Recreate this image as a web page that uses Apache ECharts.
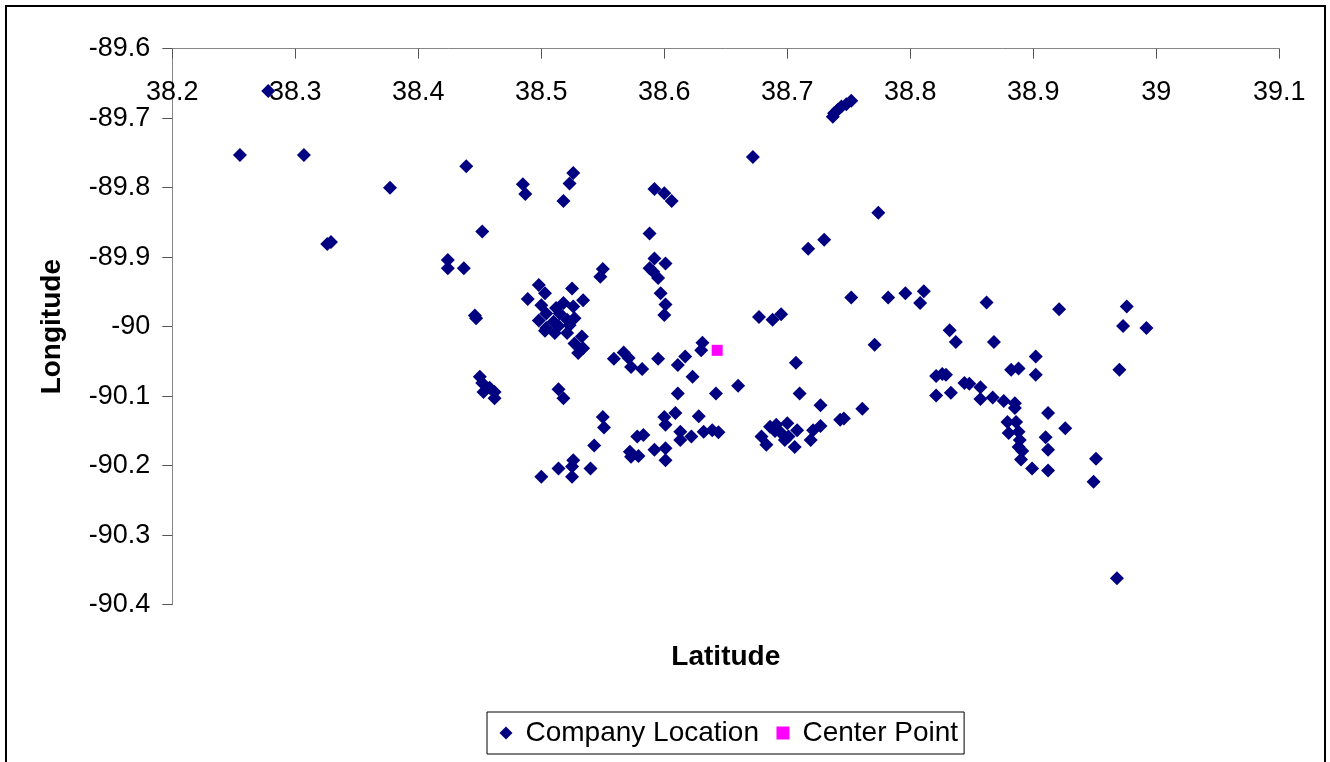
<!DOCTYPE html>
<html><head><meta charset="utf-8">
<script src="https://cdn.jsdelivr.net/npm/echarts@6/dist/echarts.min.js"></script>
<style>html,body{margin:0;padding:0;background:#fff}#c{width:1330px;height:762px}</style>
</head><body><div id="c"></div>
<script>
const companyLat = [
38.278,38.255,38.307,38.377,38.326,38.329,
38.439,38.485,38.487,38.526,38.523,38.518,38.452,38.424,38.424,38.437,38.446,38.447,38.498,38.503,38.489,38.525,38.534,38.518,38.515,38.526,38.504,38.498,38.510,38.521,38.504,38.550,38.548,38.512,38.500,38.523,38.527,38.514,
38.503,38.511,38.521,38.533,38.527,38.534,38.530,38.559,38.567,38.571,38.573,38.582,38.595,38.617,38.611,38.631,38.630,38.623,38.450,38.452,38.453,38.462,38.462,38.458,38.514,38.518,38.611,38.642,38.660,38.550,38.551,38.600,38.609,38.601,38.628,38.613,38.613,38.622,38.632,38.639,38.644,38.578,38.583,38.543,38.572,38.579,38.573,38.592,38.601,38.601,38.514,38.526,38.525,38.525,38.500,38.540,
38.592,38.600,38.606,38.588,38.592,38.601,38.588,38.591,38.595,38.597,38.601,38.600,
38.752,38.748,38.744,38.741,38.738,38.737,38.672,38.774,38.730,38.717,38.752,38.782,38.677,38.688,38.695,
38.771,38.707,38.710,38.727,38.761,38.743,38.746,38.727,38.721,38.719,38.686,38.691,38.700,38.679,38.683,38.695,38.701,38.708,38.706,38.698,38.690,
38.796,38.811,38.808,38.862,38.921,38.976,38.973,38.992,38.832,38.837,38.868,38.902,38.882,38.888,38.902,38.970,38.821,38.826,38.829,38.844,38.848,38.821,38.833,38.857,38.857,38.867,38.876,38.885,38.885,38.912,38.926,38.879,38.886,38.880,38.888,38.889,38.888,38.890,38.891,38.910,38.912,38.899,38.912,38.951,38.949,38.968
];
const companyLon = [
-89.661,-89.753,-89.753,-89.800,-89.881,-89.878,
-89.769,-89.795,-89.809,-89.779,-89.794,-89.819,-89.863,-89.904,-89.916,-89.916,-89.984,-89.988,-89.940,-89.952,-89.960,-89.945,-89.962,-89.966,-89.981,-89.971,-89.981,-89.991,-89.993,-89.990,-90.002,-89.917,-89.928,-89.973,-89.969,-89.998,-89.988,-89.999,
-90.006,-90.009,-90.009,-90.014,-90.024,-90.031,-90.038,-90.046,-90.037,-90.045,-90.058,-90.061,-90.046,-90.043,-90.055,-90.023,-90.034,-90.072,-90.072,-90.081,-90.094,-90.094,-90.103,-90.088,-90.090,-90.103,-90.096,-90.096,-90.085,-90.130,-90.145,-90.130,-90.124,-90.141,-90.129,-90.151,-90.163,-90.158,-90.151,-90.149,-90.152,-90.158,-90.156,-90.171,-90.180,-90.186,-90.187,-90.177,-90.175,-90.192,-90.204,-90.192,-90.201,-90.216,-90.216,-90.204,
-89.802,-89.808,-89.819,-89.866,-89.902,-89.909,-89.916,-89.921,-89.930,-89.952,-89.968,-89.983,
-89.675,-89.680,-89.683,-89.688,-89.693,-89.698,-89.756,-89.836,-89.875,-89.888,-89.958,-89.958,-89.986,-89.990,-89.982,
-90.026,-90.052,-90.096,-90.113,-90.118,-90.134,-90.132,-90.143,-90.149,-90.163,-90.144,-90.141,-90.139,-90.158,-90.170,-90.153,-90.158,-90.149,-90.173,-90.163,-90.150,
-89.952,-89.949,-89.966,-89.965,-89.975,-89.971,-89.999,-90.002,-90.005,-90.022,-90.022,-90.043,-90.062,-90.060,-90.069,-90.062,-90.071,-90.068,-90.069,-90.081,-90.082,-90.099,-90.095,-90.087,-90.104,-90.102,-90.107,-90.110,-90.117,-90.124,-90.146,-90.137,-90.137,-90.153,-90.151,-90.163,-90.173,-90.191,-90.179,-90.159,-90.177,-90.204,-90.207,-90.190,-90.223,-90.362
];
const centerLat = [38.643];
const centerLon = [-90.034];
const xTicks = [38.2,38.3,38.4,38.5,38.6,38.7,38.8,38.9,39.0,39.1];
const yTicks = [-90.4,-90.3,-90.2,-90.1,-90.0,-89.9,-89.8,-89.7,-89.6];

const FF = '"Liberation Sans", Arial, sans-serif';
const fmt = v => String(+(+v).toFixed(1));
const companyData = companyLat.map((la, i) => [la, companyLon[i]]);
const centerData = centerLat.map((la, i) => [la, centerLon[i]]);

const chart = echarts.init(document.getElementById('c'), null, {renderer: 'canvas'});
chart.setOption({
  animation: false,
  backgroundColor: '#fff',
  grid: {left: 172.3, top: 48.7, right: 50.7, bottom: 157.3, containLabel: false},
  xAxis: {
    type: 'value', position: 'top',
    min: xTicks[0], max: xTicks[xTicks.length - 1], interval: 0.1,
    axisLine: {show: true, onZero: false, lineStyle: {color: '#868686', width: 1}},
    axisTick: {show: true, inside: true, length: 10, lineStyle: {color: '#555'}},
    axisLabel: {inside: true, margin: 30, color: '#000', fontSize: 27, fontFamily: FF, formatter: fmt, showMinLabel: true, showMaxLabel: true},
    splitLine: {show: false}
  },
  yAxis: {
    type: 'value',
    min: yTicks[0], max: yTicks[yTicks.length - 1], interval: 0.1,
    axisLine: {show: true, onZero: false, lineStyle: {color: '#868686', width: 1}},
    axisTick: {show: true, length: 10, lineStyle: {color: '#555'}},
    axisLabel: {margin: 22, color: '#000', fontSize: 27, fontFamily: FF, formatter: fmt, showMinLabel: true, showMaxLabel: true},
    splitLine: {show: false},
    name: 'Longitude', nameLocation: 'middle', nameGap: 106,
    nameTextStyle: {fontWeight: 'bold', fontSize: 28, color: '#000', fontFamily: FF}
  },
  legend: {
    left: 487, top: 712,
    borderColor: '#000', borderWidth: 1,
    padding: [7, 6, 7, 12.5],
    itemWidth: 13, itemHeight: 13, itemGap: 17.5,
    textStyle: {fontSize: 28, color: '#000', fontFamily: FF, padding: [0, 0, 0, 8]},
    data: ['Company Location', 'Center Point']
  },
  graphic: [
    {type: 'rect', silent: true, shape: {x: 6, y: 6, width: 1319, height: 800}, style: {fill: 'none', stroke: '#000', lineWidth: 2}},
    {type: 'text', silent: true, x: 725.8, y: 657, style: {text: 'Latitude', fontSize: 28, fontWeight: 'bold', fontFamily: FF, fill: '#000', align: 'center', verticalAlign: 'middle'}}
  ],
  series: [
    {type: 'scatter', name: 'Company Location', symbol: 'diamond', symbolSize: 14, itemStyle: {color: '#000080', opacity: 1}, data: companyData},
    {type: 'scatter', name: 'Center Point', symbol: 'rect', symbolSize: 11, itemStyle: {color: '#FF00FF', opacity: 1}, data: centerData}
  ]
});
</script></body></html>
